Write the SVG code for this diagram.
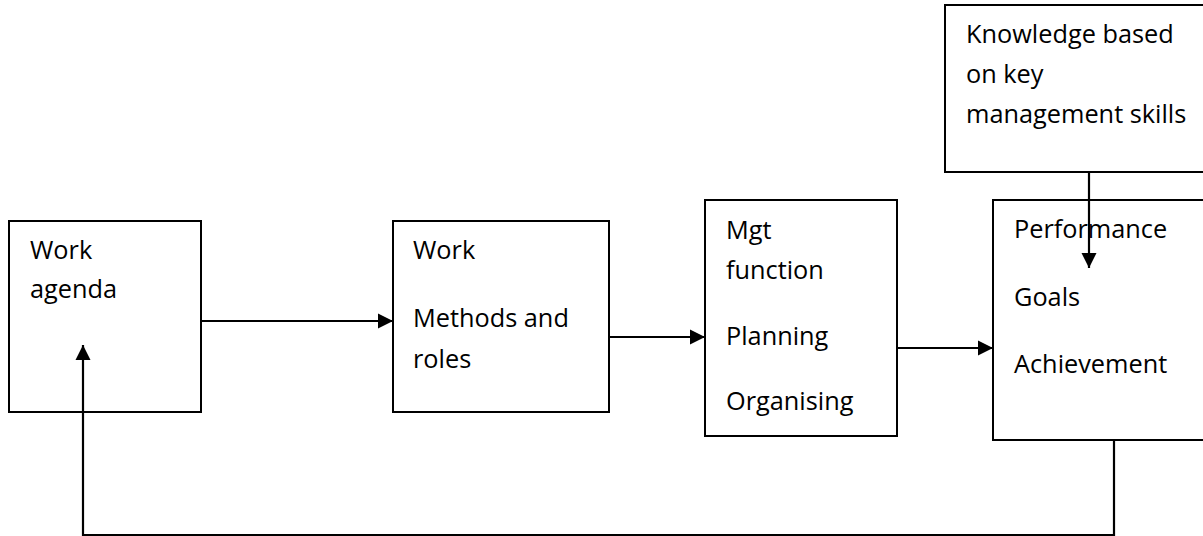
<svg xmlns="http://www.w3.org/2000/svg" width="1203" height="536" viewBox="0 0 1203 536">
  <style>
    .box { fill: #ffffff; stroke: #000000; stroke-width: 2; }
    .lbl { font-family: "Open Sans", Lato, "Liberation Sans", sans-serif; font-size: 25.3px; fill: #000000; }
    .wire { fill: none; stroke: #000000; stroke-width: 2.2; }
  </style>
  <defs>
    <marker id="head" markerUnits="userSpaceOnUse" markerWidth="16" markerHeight="16" viewBox="0 0 16 16" refX="15" refY="8" orient="auto">
      <path d="M0,0.5 L15,8 L0,15.5 Z" fill="#000000"/>
    </marker>
  </defs>
  <rect x="0" y="0" width="1203" height="536" fill="#ffffff"/>

  <g id="node-work-agenda">
    <rect class="box" x="9" y="221" width="192" height="191"/>
    <text class="lbl" x="30" y="259">Work</text>
    <text class="lbl" x="30" y="298">agenda</text>
  </g>

  <g id="node-work-methods">
    <rect class="box" x="393" y="221" width="216" height="191"/>
    <text class="lbl" x="413" y="259">Work</text>
    <text class="lbl" x="413" y="327">Methods and</text>
    <text class="lbl" x="413" y="368">roles</text>
  </g>

  <g id="node-mgt-function">
    <rect class="box" x="705" y="200" width="192" height="236"/>
    <text class="lbl" x="726" y="239">Mgt</text>
    <text class="lbl" x="726" y="279">function</text>
    <text class="lbl" x="726" y="345">Planning</text>
    <text class="lbl" x="726" y="410">Organising</text>
  </g>

  <g id="node-knowledge">
    <rect class="box" x="945" y="5" width="270" height="167"/>
    <text class="lbl" x="966" y="43">Knowledge based</text>
    <text class="lbl" x="966" y="83">on key</text>
    <text class="lbl" x="966" y="123">management skills</text>
  </g>

  <g id="node-performance">
    <rect class="box" x="993" y="200" width="222" height="240"/>
    <text class="lbl" x="1014" y="238">Performance</text>
    <text class="lbl" x="1014" y="306">Goals</text>
    <text class="lbl" x="1014" y="373">Achievement</text>
  </g>

  <g id="connectors">
    <line class="wire" x1="201" y1="321" x2="393" y2="321" marker-end="url(#head)"/>
    <line class="wire" x1="609" y1="337" x2="705" y2="337" marker-end="url(#head)"/>
    <line class="wire" x1="897" y1="348" x2="993" y2="348" marker-end="url(#head)"/>
    <line class="wire" x1="1089" y1="172" x2="1089" y2="268" marker-end="url(#head)"/>
    <polyline class="wire" points="1114,440 1114,535 83,535 83,345" marker-end="url(#head)"/>
  </g>
</svg>
